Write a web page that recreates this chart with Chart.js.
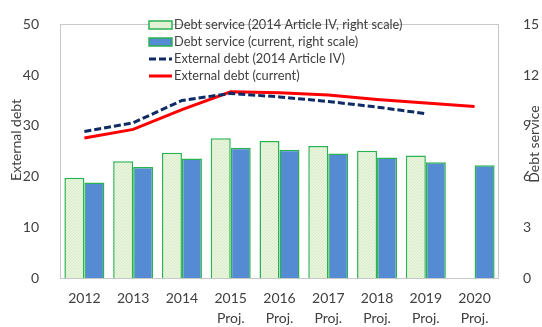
<!DOCTYPE html>
<html>
<head>
<meta charset="utf-8">
<style>
  html, body { margin: 0; padding: 0; background: #fff; }
</style>
<script src="https://cdn.jsdelivr.net/npm/chart.js@4.4.1/dist/chart.umd.min.js"></script>
</head>
<body>
<canvas id="chart" width="542" height="327"></canvas>
<script>
// categories (projection years carry a second line)
const years = ['2012', '2013', '2014', '2015', '2016', '2017', '2018', '2019', '2020'];
const projFrom = '2015';

// debt service, right scale
const debtServiceArt4 = [5.93, 6.90, 7.41, 8.27, 8.10, 7.81, 7.53, 7.24, null];
const debtServiceCurrent = [5.65, 6.56, 7.07, 7.70, 7.59, 7.36, 7.13, 6.84, 6.67];

// external debt, left scale
const extDebtArt4 = [28.9, 30.6, 35.0, 36.4, 35.7, 34.8, 33.7, 32.4, null];
const extDebtCurrent = [27.6, 29.3, 33.2, 36.7, 36.5, 36.1, 35.2, 34.5, 33.8];

const leftTicks = [0, 10, 20, 30, 40, 50];
const rightTicks = [0, 3, 6, 9, 12, 15];

const FONT = 'Lato, "Liberation Sans", sans-serif';
const TEXT = '#404040';

const xLabels = years.map(y => (y >= projFrom ? [y, 'Proj.'] : [y]));

// light green hatch fill
function hatch() {
  const c = document.createElement('canvas');
  c.width = 3; c.height = 3;
  const g = c.getContext('2d');
  g.fillStyle = '#eaf5e0';
  g.fillRect(0, 0, 3, 3);
  g.fillStyle = '#d6eac4';
  for (let i = 0; i < 3; i++) g.fillRect(i, 2 - i, 1, 1);
  return g.createPattern(c, 'repeat');
}

const ctx = document.getElementById('chart').getContext('2d');

const frame = {
  id: 'frame',
  beforeDatasetsDraw(chart) {
    const { ctx, chartArea: a } = chart;
    ctx.save();
    ctx.strokeStyle = '#c8c8c8';
    ctx.lineWidth = 1;
    ctx.strokeRect(Math.round(a.left) + 0.5, Math.round(a.top) + 0.5,
      Math.round(a.right - a.left) - 1, Math.round(a.bottom - a.top));
    ctx.restore();
  },
  afterDraw(chart) {
    const { ctx } = chart;
    ctx.save();
    ctx.fillStyle = TEXT;
    ctx.font = '14px ' + FONT;
    ctx.textAlign = 'center';
    ctx.textBaseline = 'middle';
    const titles = [['External debt', 16, 140], ['Debt service', 534, 144]];
    titles.forEach(([t, x, y]) => {
      ctx.save();
      ctx.translate(x, y);
      ctx.rotate(-Math.PI / 2);
      ctx.fillText(t, 0, 0);
      ctx.restore();
    });

    // legend inside the plot
    const lx = 149, sw = 23;
    const rows = [25, 42, 59, 76];
    ctx.font = '12.8px ' + FONT;
    ctx.textAlign = 'left';
    chart.data.datasets.forEach((ds, i) => {
      const y = rows[i];
      if (ds.type === 'bar') {
        ctx.fillStyle = ds.backgroundColor;
        ctx.fillRect(lx, y - 4, sw, 8);
        ctx.strokeStyle = ds.borderColor;
        ctx.lineWidth = 1.5;
        ctx.strokeRect(lx, y - 4, sw, 8);
      } else {
        ctx.strokeStyle = ds.borderColor;
        ctx.lineWidth = ds.borderWidth;
        ctx.setLineDash(ds.borderDash || []);
        ctx.beginPath();
        ctx.moveTo(lx, y);
        ctx.lineTo(lx + sw, y);
        ctx.stroke();
        ctx.setLineDash([]);
      }
      ctx.fillStyle = TEXT;
      ctx.fillText(ds.label, lx + sw + 2, y);
    });
    ctx.restore();
  }
};

new Chart(ctx, {
  data: {
    labels: xLabels,
    datasets: [
      {
        type: 'bar',
        label: 'Debt service (2014 Article IV, right scale)',
        data: debtServiceArt4,
        yAxisID: 'y1',
        backgroundColor: hatch(),
        borderColor: '#29b350',
        borderWidth: 1.5,
        order: 2
      },
      {
        type: 'bar',
        label: 'Debt service (current, right scale)',
        data: debtServiceCurrent,
        yAxisID: 'y1',
        backgroundColor: '#558bd2',
        borderColor: '#29b350',
        borderWidth: 1.5,
        order: 2
      },
      {
        type: 'line',
        label: 'External debt (2014 Article IV)',
        data: extDebtArt4,
        yAxisID: 'y',
        borderColor: '#0e2b66',
        borderWidth: 3,
        borderDash: [7, 3],
        pointRadius: 0,
        fill: false,
        order: 1
      },
      {
        type: 'line',
        label: 'External debt (current)',
        data: extDebtCurrent,
        yAxisID: 'y',
        borderColor: '#ff0000',
        borderWidth: 3,
        pointRadius: 0,
        fill: false,
        order: 1
      }
    ]
  },
  options: {
    responsive: false,
    animation: false,
    layout: { padding: { top: 15, left: 0, right: 0, bottom: 0 } },
    plugins: { legend: { display: false }, tooltip: { enabled: false } },
    datasets: { bar: { categoryPercentage: 0.82, barPercentage: 1.0 } },
    scales: {
      x: {
        grid: { display: false },
        border: { display: false },
        ticks: { color: TEXT, padding: 3, font: { family: FONT, size: 14, lineHeight: 1.4 }, maxRotation: 0 },
        afterFit: s => { s.height = 49; }
      },
      y: {
        position: 'left',
        min: 0, max: 50,
        grid: { display: false },
        border: { display: false },
        afterBuildTicks: s => { s.ticks = leftTicks.map(v => ({ value: v })); },
        ticks: { color: TEXT, padding: 13, font: { family: FONT, size: 14 } },
        afterFit: s => { s.width = 60; }
      },
      y1: {
        position: 'right',
        min: 0, max: 15,
        grid: { display: false },
        border: { display: false },
        afterBuildTicks: s => { s.ticks = rightTicks.map(v => ({ value: v })); },
        ticks: { color: TEXT, padding: 16, font: { family: FONT, size: 14 } },
        afterFit: s => { s.width = 43; }
      }
    }
  },
  plugins: [frame]
});
</script>
</body>
</html>
